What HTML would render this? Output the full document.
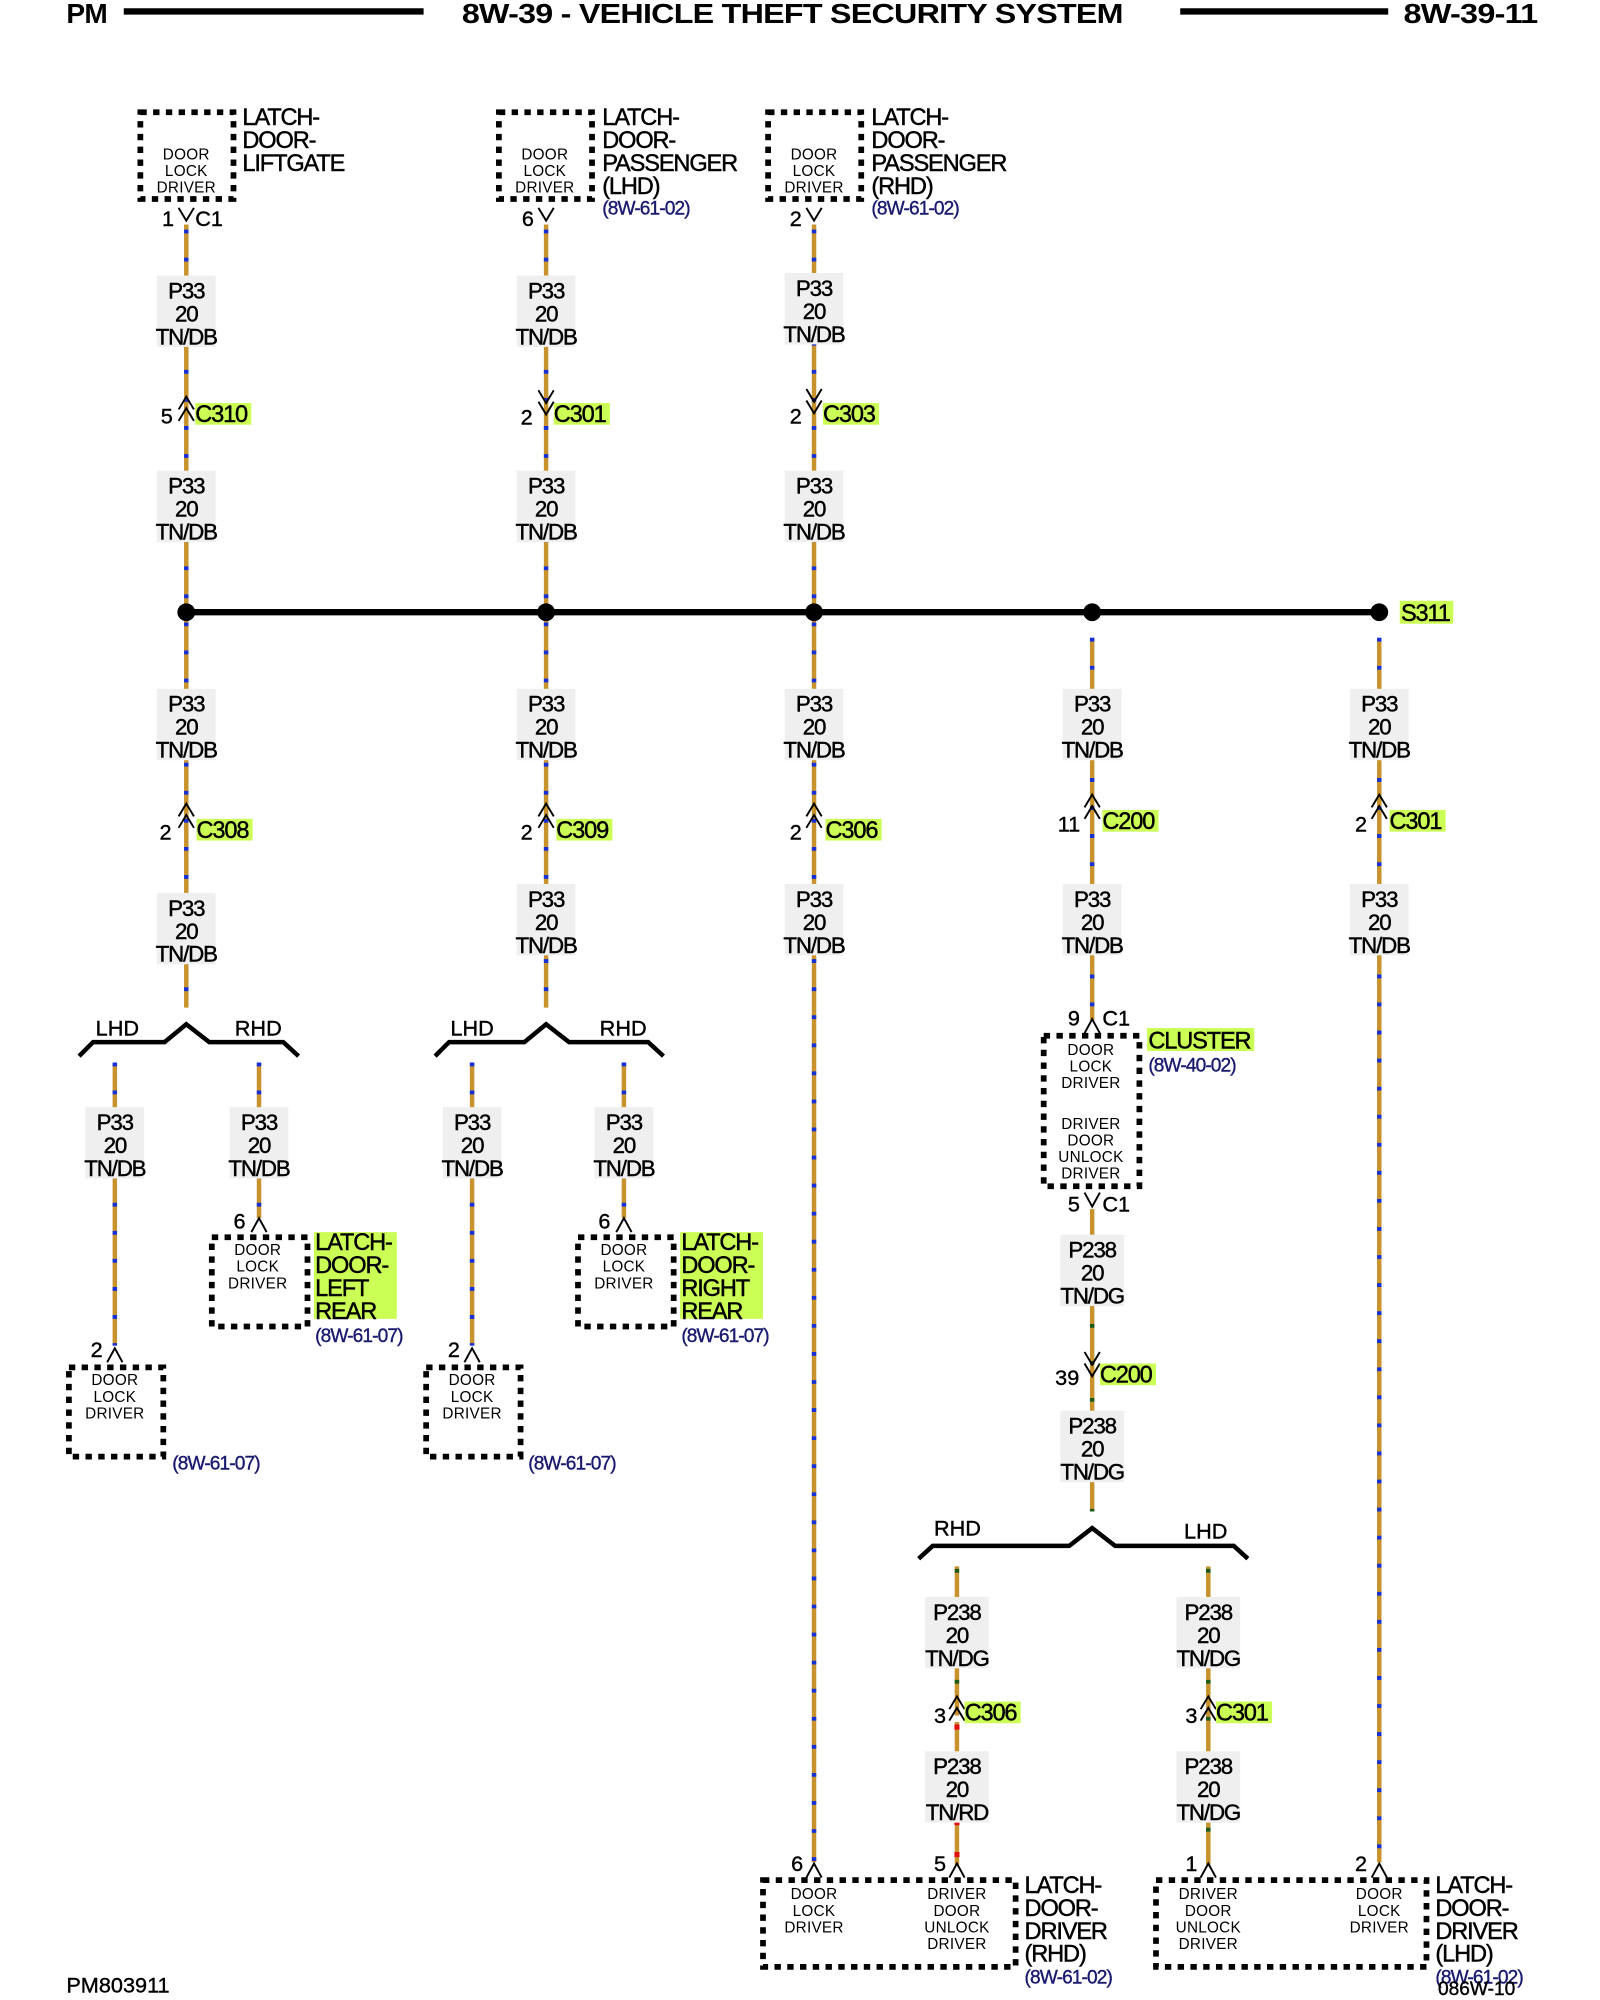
<!DOCTYPE html>
<html><head><meta charset="utf-8"><style>
html,body{margin:0;padding:0;background:#fff;width:1600px;height:2000px;overflow:hidden}
svg{display:block}
text{font-family:"Liberation Sans",sans-serif;fill:#000}
.h{font-size:22px;letter-spacing:-0.5px;font-weight:bold}
.lb{font-size:18.5px;letter-spacing:-0.9px;stroke:#000;stroke-width:0.35}
.wl{font-size:17.5px;letter-spacing:-0.9px;text-anchor:middle;stroke:#000;stroke-width:0.35}
.sm{font-size:12px;text-anchor:middle;letter-spacing:0.2px}
.rf{font-size:15px;fill:#1a1a6e;letter-spacing:-0.7px;stroke:#1a1a6e;stroke-width:0.3}
.pn{font-size:17px;stroke:#000;stroke-width:0.3}
.w{stroke:#c8922c;stroke-width:3.5;fill:none}
.b{stroke:#1530d8;stroke-width:3.5;stroke-dasharray:3 19;fill:none}
.g{stroke:#1a5a1a;stroke-width:3.5;stroke-dasharray:3 26;fill:none}
.r{stroke:#e01010;stroke-width:4;stroke-dasharray:4 21;fill:none}
.bx{stroke:#000;stroke-width:4.5;stroke-dasharray:5 5;fill:none}
.ch{stroke:#000;stroke-width:1.5;fill:none}
.fk{stroke:#000;stroke-width:3.5;fill:none}
.bg{fill:#efefef}
.hl{fill:#ccff55}
</style></head><body>
<svg width="1600" height="2000" viewBox="0 0 1254 1568" preserveAspectRatio="none" xmlns="http://www.w3.org/2000/svg">
<!-- header -->
<text class="h" x="52" y="18">PM</text>
<line x1="97" y1="9" x2="332" y2="9" stroke="#000" stroke-width="5"/>
<text class="h" x="362" y="18" textLength="518" lengthAdjust="spacingAndGlyphs">8W-39 - VEHICLE THEFT SECURITY SYSTEM</text>
<line x1="925" y1="9" x2="1088" y2="9" stroke="#000" stroke-width="5"/>
<text class="h" x="1100" y="18" textLength="105" lengthAdjust="spacingAndGlyphs">8W-39-11</text>

<!-- wires P33 -->
<g>
<line class="w" x1="146" y1="176" x2="146" y2="790"/><line class="b" x1="146" y1="180" x2="146" y2="790"/>
<line class="w" x1="428" y1="176" x2="428" y2="790"/><line class="b" x1="428" y1="180" x2="428" y2="790"/>
<line class="w" x1="638" y1="176" x2="638" y2="1460"/><line class="b" x1="638" y1="180" x2="638" y2="1460"/>
<line class="w" x1="856" y1="500" x2="856" y2="800"/><line class="b" x1="856" y1="500" x2="856" y2="800"/>
<line class="w" x1="1081" y1="500" x2="1081" y2="1460"/><line class="b" x1="1081" y1="500" x2="1081" y2="1460"/>
<line class="w" x1="90" y1="833" x2="90" y2="1055"/><line class="b" x1="90" y1="833" x2="90" y2="1055"/>
<line class="w" x1="203" y1="833" x2="203" y2="955"/><line class="b" x1="203" y1="833" x2="203" y2="955"/>
<line class="w" x1="370" y1="833" x2="370" y2="1055"/><line class="b" x1="370" y1="833" x2="370" y2="1055"/>
<line class="w" x1="489" y1="833" x2="489" y2="955"/><line class="b" x1="489" y1="833" x2="489" y2="955"/>
<!-- P238 -->
<line class="w" x1="856" y1="948" x2="856" y2="1185"/><line class="g" x1="856" y1="980" x2="856" y2="1185"/>
<line class="w" x1="750" y1="1228" x2="750" y2="1345"/><line class="g" x1="750" y1="1230" x2="750" y2="1345"/>
<line class="w" x1="750" y1="1350" x2="750" y2="1462"/><line class="r" x1="750" y1="1352" x2="750" y2="1462"/>
<line class="w" x1="947" y1="1228" x2="947" y2="1462"/><line class="g" x1="947" y1="1230" x2="947" y2="1462"/>
</g>

<!-- bus -->
<line x1="146" y1="480" x2="1081" y2="480" stroke="#000" stroke-width="5"/>
<circle cx="146" cy="480" r="7"/><circle cx="428" cy="480" r="7"/><circle cx="638" cy="480" r="7"/><circle cx="856" cy="480" r="7"/><circle cx="1081" cy="480" r="7"/>
<rect class="hl" x="1097" y="471" width="42" height="18"/><text class="lb" x="1098" y="487">S311</text>

<!-- wire labels -->
<g>
<rect class="bg" x="123" y="216" width="46" height="56"/><text class="wl" x="146" y="234">P33</text><text class="wl" x="146" y="252">20</text><text class="wl" x="146" y="270">TN/DB</text>
<rect class="bg" x="123" y="369" width="46" height="56"/><text class="wl" x="146" y="387">P33</text><text class="wl" x="146" y="405">20</text><text class="wl" x="146" y="423">TN/DB</text>
<rect class="bg" x="405" y="216" width="46" height="56"/><text class="wl" x="428" y="234">P33</text><text class="wl" x="428" y="252">20</text><text class="wl" x="428" y="270">TN/DB</text>
<rect class="bg" x="405" y="369" width="46" height="56"/><text class="wl" x="428" y="387">P33</text><text class="wl" x="428" y="405">20</text><text class="wl" x="428" y="423">TN/DB</text>
<rect class="bg" x="615" y="214" width="46" height="56"/><text class="wl" x="638" y="232">P33</text><text class="wl" x="638" y="250">20</text><text class="wl" x="638" y="268">TN/DB</text>
<rect class="bg" x="615" y="369" width="46" height="56"/><text class="wl" x="638" y="387">P33</text><text class="wl" x="638" y="405">20</text><text class="wl" x="638" y="423">TN/DB</text>

<rect class="bg" x="123" y="540" width="46" height="56"/><text class="wl" x="146" y="558">P33</text><text class="wl" x="146" y="576">20</text><text class="wl" x="146" y="594">TN/DB</text>
<rect class="bg" x="405" y="540" width="46" height="56"/><text class="wl" x="428" y="558">P33</text><text class="wl" x="428" y="576">20</text><text class="wl" x="428" y="594">TN/DB</text>
<rect class="bg" x="615" y="540" width="46" height="56"/><text class="wl" x="638" y="558">P33</text><text class="wl" x="638" y="576">20</text><text class="wl" x="638" y="594">TN/DB</text>
<rect class="bg" x="833" y="540" width="46" height="56"/><text class="wl" x="856" y="558">P33</text><text class="wl" x="856" y="576">20</text><text class="wl" x="856" y="594">TN/DB</text>
<rect class="bg" x="1058" y="540" width="46" height="56"/><text class="wl" x="1081" y="558">P33</text><text class="wl" x="1081" y="576">20</text><text class="wl" x="1081" y="594">TN/DB</text>

<rect class="bg" x="123" y="700" width="46" height="56"/><text class="wl" x="146" y="718">P33</text><text class="wl" x="146" y="736">20</text><text class="wl" x="146" y="754">TN/DB</text>
<rect class="bg" x="405" y="693" width="46" height="56"/><text class="wl" x="428" y="711">P33</text><text class="wl" x="428" y="729">20</text><text class="wl" x="428" y="747">TN/DB</text>
<rect class="bg" x="615" y="693" width="46" height="56"/><text class="wl" x="638" y="711">P33</text><text class="wl" x="638" y="729">20</text><text class="wl" x="638" y="747">TN/DB</text>
<rect class="bg" x="833" y="693" width="46" height="56"/><text class="wl" x="856" y="711">P33</text><text class="wl" x="856" y="729">20</text><text class="wl" x="856" y="747">TN/DB</text>
<rect class="bg" x="1058" y="693" width="46" height="56"/><text class="wl" x="1081" y="711">P33</text><text class="wl" x="1081" y="729">20</text><text class="wl" x="1081" y="747">TN/DB</text>

<rect class="bg" x="67" y="868" width="46" height="56"/><text class="wl" x="90" y="886">P33</text><text class="wl" x="90" y="904">20</text><text class="wl" x="90" y="922">TN/DB</text>
<rect class="bg" x="180" y="868" width="46" height="56"/><text class="wl" x="203" y="886">P33</text><text class="wl" x="203" y="904">20</text><text class="wl" x="203" y="922">TN/DB</text>
<rect class="bg" x="347" y="868" width="46" height="56"/><text class="wl" x="370" y="886">P33</text><text class="wl" x="370" y="904">20</text><text class="wl" x="370" y="922">TN/DB</text>
<rect class="bg" x="466" y="868" width="46" height="56"/><text class="wl" x="489" y="886">P33</text><text class="wl" x="489" y="904">20</text><text class="wl" x="489" y="922">TN/DB</text>

<rect class="bg" x="831" y="968" width="50" height="56"/><text class="wl" x="856" y="986">P238</text><text class="wl" x="856" y="1004">20</text><text class="wl" x="856" y="1022">TN/DG</text>
<rect class="bg" x="831" y="1106" width="50" height="56"/><text class="wl" x="856" y="1124">P238</text><text class="wl" x="856" y="1142">20</text><text class="wl" x="856" y="1160">TN/DG</text>
<rect class="bg" x="725" y="1252" width="50" height="56"/><text class="wl" x="750" y="1270">P238</text><text class="wl" x="750" y="1288">20</text><text class="wl" x="750" y="1306">TN/DG</text>
<rect class="bg" x="922" y="1252" width="50" height="56"/><text class="wl" x="947" y="1270">P238</text><text class="wl" x="947" y="1288">20</text><text class="wl" x="947" y="1306">TN/DG</text>
<rect class="bg" x="725" y="1373" width="50" height="56"/><text class="wl" x="750" y="1391">P238</text><text class="wl" x="750" y="1409">20</text><text class="wl" x="750" y="1427">TN/RD</text>
<rect class="bg" x="922" y="1373" width="50" height="56"/><text class="wl" x="947" y="1391">P238</text><text class="wl" x="947" y="1409">20</text><text class="wl" x="947" y="1427">TN/DG</text>
</g>

<!-- top components -->
<rect class="bx" x="110" y="88" width="73" height="68"/>
<text class="sm" x="146" y="125">DOOR</text><text class="sm" x="146" y="138">LOCK</text><text class="sm" x="146" y="151">DRIVER</text>
<text class="lb" x="190" y="98">LATCH-</text><text class="lb" x="190" y="116">DOOR-</text><text class="lb" x="190" y="134">LIFTGATE</text>
<path class="ch" d="M140 163 L146 173 L152 163"/><text class="pn" x="127" y="177">1</text><text class="pn" x="153" y="177">C1</text>

<rect class="bx" x="391" y="88" width="73" height="68"/>
<text class="sm" x="427" y="125">DOOR</text><text class="sm" x="427" y="138">LOCK</text><text class="sm" x="427" y="151">DRIVER</text>
<text class="lb" x="472" y="98">LATCH-</text><text class="lb" x="472" y="116">DOOR-</text><text class="lb" x="472" y="134">PASSENGER</text><text class="lb" x="472" y="152">(LHD)</text><text class="rf" x="472" y="168">(8W-61-02)</text>
<path class="ch" d="M422 163 L428 173 L434 163"/><text class="pn" x="409" y="177">6</text>

<rect class="bx" x="602" y="88" width="73" height="68"/>
<text class="sm" x="638" y="125">DOOR</text><text class="sm" x="638" y="138">LOCK</text><text class="sm" x="638" y="151">DRIVER</text>
<text class="lb" x="683" y="98">LATCH-</text><text class="lb" x="683" y="116">DOOR-</text><text class="lb" x="683" y="134">PASSENGER</text><text class="lb" x="683" y="152">(RHD)</text><text class="rf" x="683" y="168">(8W-61-02)</text>
<path class="ch" d="M632 163 L638 173 L644 163"/><text class="pn" x="619" y="177">2</text>

<!-- inline connectors upper -->
<path class="ch" d="M140 321 L146 311 L152 321 M140 330 L146 320 L152 330"/><text class="pn" x="126" y="332">5</text>
<rect class="hl" x="153" y="316" width="44" height="17"/><text class="lb" x="153" y="331">C310</text>
<path class="ch" d="M422 306 L428 316 L434 306 M422 315 L428 325 L434 315"/><text class="pn" x="408" y="333">2</text>
<rect class="hl" x="434" y="316" width="44" height="17"/><text class="lb" x="434" y="331">C301</text>
<path class="ch" d="M632 305 L638 315 L644 305 M632 314 L638 324 L644 314"/><text class="pn" x="619" y="332">2</text>
<rect class="hl" x="645" y="316" width="44" height="17"/><text class="lb" x="645" y="331">C303</text>

<!-- lower connectors -->
<path class="ch" d="M140 640 L146 630 L152 640 M140 649 L146 639 L152 649"/><text class="pn" x="125" y="658">2</text>
<rect class="hl" x="154" y="642" width="44" height="17"/><text class="lb" x="154" y="657">C308</text>
<path class="ch" d="M422 640 L428 630 L434 640 M422 649 L428 639 L434 649"/><text class="pn" x="408" y="658">2</text>
<rect class="hl" x="436" y="642" width="44" height="17"/><text class="lb" x="436" y="657">C309</text>
<path class="ch" d="M632 640 L638 630 L644 640 M632 649 L638 639 L644 649"/><text class="pn" x="619" y="658">2</text>
<rect class="hl" x="647" y="642" width="44" height="17"/><text class="lb" x="647" y="657">C306</text>
<path class="ch" d="M850 633 L856 623 L862 633 M850 642 L856 632 L862 642"/><text class="pn" x="829" y="652">11</text>
<rect class="hl" x="864" y="635" width="44" height="17"/><text class="lb" x="864" y="650">C200</text>
<path class="ch" d="M1075 633 L1081 623 L1087 633 M1075 642 L1081 632 L1087 642"/><text class="pn" x="1062" y="652">2</text>
<rect class="hl" x="1089" y="635" width="44" height="17"/><text class="lb" x="1089" y="650">C301</text>

<!-- forks A & B -->
<path class="fk" d="M62 828 L73 817 L129 817 L146 803 L164 817 L222 817 L234 828"/>
<text class="pn" x="75" y="812">LHD</text><text class="pn" x="184" y="812">RHD</text>
<path class="fk" d="M341 828 L352 817 L411 817 L428 803 L446 817 L508 817 L520 828"/>
<text class="pn" x="353" y="812">LHD</text><text class="pn" x="470" y="812">RHD</text>

<!-- A sub components -->
<path class="ch" d="M84 1068 L90 1057 L96 1068"/><text class="pn" x="71" y="1064">2</text>
<rect class="bx" x="54" y="1072" width="74" height="70"/>
<text class="sm" x="90" y="1086">DOOR</text><text class="sm" x="90" y="1099">LOCK</text><text class="sm" x="90" y="1112">DRIVER</text>
<text class="rf" x="135" y="1152">(8W-61-07)</text>
<path class="ch" d="M197 966 L203 955 L209 966"/><text class="pn" x="183" y="963">6</text>
<rect class="bx" x="166" y="970" width="75" height="70"/>
<text class="sm" x="202" y="984">DOOR</text><text class="sm" x="202" y="997">LOCK</text><text class="sm" x="202" y="1010">DRIVER</text>
<rect class="hl" x="246" y="966" width="65" height="68"/>
<text class="lb" x="247" y="980">LATCH-</text><text class="lb" x="247" y="998">DOOR-</text><text class="lb" x="247" y="1016">LEFT</text><text class="lb" x="247" y="1034">REAR</text>
<text class="rf" x="247" y="1052">(8W-61-07)</text>

<path class="ch" d="M364 1068 L370 1057 L376 1068"/><text class="pn" x="351" y="1064">2</text>
<rect class="bx" x="334" y="1072" width="74" height="70"/>
<text class="sm" x="370" y="1086">DOOR</text><text class="sm" x="370" y="1099">LOCK</text><text class="sm" x="370" y="1112">DRIVER</text>
<text class="rf" x="414" y="1152">(8W-61-07)</text>
<path class="ch" d="M483 966 L489 955 L495 966"/><text class="pn" x="469" y="963">6</text>
<rect class="bx" x="453" y="970" width="75" height="70"/>
<text class="sm" x="489" y="984">DOOR</text><text class="sm" x="489" y="997">LOCK</text><text class="sm" x="489" y="1010">DRIVER</text>
<rect class="hl" x="533" y="966" width="65" height="68"/>
<text class="lb" x="534" y="980">LATCH-</text><text class="lb" x="534" y="998">DOOR-</text><text class="lb" x="534" y="1016">RIGHT</text><text class="lb" x="534" y="1034">REAR</text>
<text class="rf" x="534" y="1052">(8W-61-07)</text>

<!-- cluster -->
<path class="ch" d="M850 810 L856 799 L862 810"/><text class="pn" x="837" y="804">9</text><text class="pn" x="864" y="804">C1</text>
<rect class="bx" x="818" y="812" width="75" height="118"/>
<text class="sm" x="855" y="827">DOOR</text><text class="sm" x="855" y="840">LOCK</text><text class="sm" x="855" y="853">DRIVER</text>
<text class="sm" x="855" y="885">DRIVER</text><text class="sm" x="855" y="898">DOOR</text><text class="sm" x="855" y="911">UNLOCK</text><text class="sm" x="855" y="924">DRIVER</text>
<rect class="hl" x="899" y="806" width="84" height="18"/><text class="lb" x="900" y="822">CLUSTER</text>
<text class="rf" x="900" y="840">(8W-40-02)</text>
<path class="ch" d="M850 935 L856 946 L862 935"/><text class="pn" x="837" y="950">5</text><text class="pn" x="864" y="950">C1</text>
<path class="ch" d="M850 1060 L856 1070 L862 1060 M850 1069 L856 1079 L862 1069"/><text class="pn" x="827" y="1086">39</text>
<rect class="hl" x="862" y="1069" width="44" height="17"/><text class="lb" x="862" y="1084">C200</text>

<path class="fk" d="M720 1222 L731 1212 L838 1212 L856 1198 L874 1212 L967 1212 L978 1222"/>
<text class="pn" x="732" y="1204">RHD</text><text class="pn" x="928" y="1206">LHD</text>

<path class="ch" d="M744 1340 L750 1330 L756 1340 M744 1349 L750 1339 L756 1349"/><text class="pn" x="732" y="1351">3</text>
<rect class="hl" x="756" y="1334" width="44" height="17"/><text class="lb" x="756" y="1349">C306</text>
<path class="ch" d="M941 1340 L947 1330 L953 1340 M941 1349 L947 1339 L953 1349"/><text class="pn" x="929" y="1351">3</text>
<rect class="hl" x="953" y="1334" width="44" height="17"/><text class="lb" x="953" y="1349">C301</text>

<!-- bottom components -->
<path class="ch" d="M632 1472 L638 1461 L644 1472"/><text class="pn" x="620" y="1467">6</text>
<path class="ch" d="M744 1472 L750 1461 L756 1472"/><text class="pn" x="732" y="1467">5</text>
<rect class="bx" x="598" y="1474" width="198" height="68"/>
<text class="sm" x="638" y="1489">DOOR</text><text class="sm" x="638" y="1502">LOCK</text><text class="sm" x="638" y="1515">DRIVER</text>
<text class="sm" x="750" y="1489">DRIVER</text><text class="sm" x="750" y="1502">DOOR</text><text class="sm" x="750" y="1515">UNLOCK</text><text class="sm" x="750" y="1528">DRIVER</text>
<text class="lb" x="803" y="1484">LATCH-</text><text class="lb" x="803" y="1502">DOOR-</text><text class="lb" x="803" y="1520">DRIVER</text><text class="lb" x="803" y="1538">(RHD)</text>
<text class="rf" x="803" y="1555">(8W-61-02)</text>

<path class="ch" d="M941 1472 L947 1461 L953 1472"/><text class="pn" x="929" y="1467">1</text>
<path class="ch" d="M1075 1472 L1081 1461 L1087 1472"/><text class="pn" x="1062" y="1467">2</text>
<rect class="bx" x="906" y="1474" width="212" height="68"/>
<text class="sm" x="947" y="1489">DRIVER</text><text class="sm" x="947" y="1502">DOOR</text><text class="sm" x="947" y="1515">UNLOCK</text><text class="sm" x="947" y="1528">DRIVER</text>
<text class="sm" x="1081" y="1489">DOOR</text><text class="sm" x="1081" y="1502">LOCK</text><text class="sm" x="1081" y="1515">DRIVER</text>
<text class="lb" x="1125" y="1484">LATCH-</text><text class="lb" x="1125" y="1502">DOOR-</text><text class="lb" x="1125" y="1520">DRIVER</text><text class="lb" x="1125" y="1538">(LHD)</text>
<text class="rf" x="1125" y="1555">(8W-61-02)</text>
<text class="pn" x="1127" y="1564" style="font-size:15px">086W-10</text>

<text class="pn" x="52" y="1562">PM803911</text>
</svg>
</body></html>
